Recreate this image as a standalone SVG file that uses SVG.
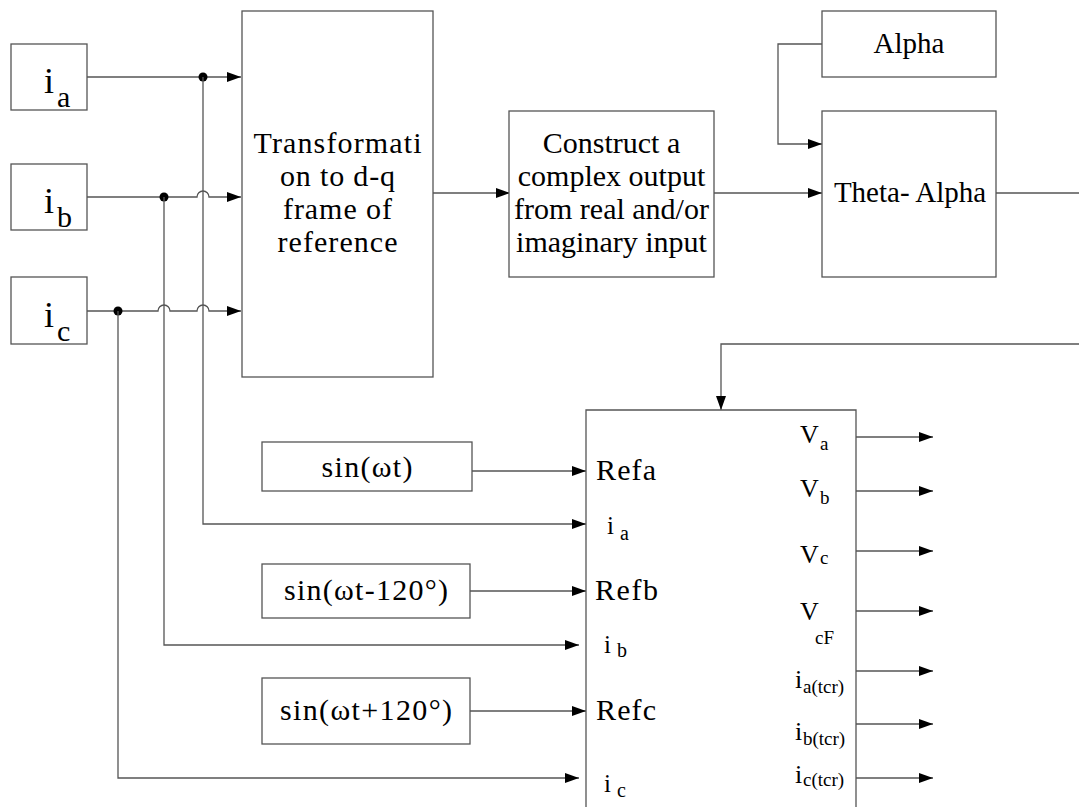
<svg xmlns="http://www.w3.org/2000/svg" width="1079" height="807" viewBox="0 0 1079 807">
<defs>
<style>
.box{fill:#fff;stroke:#555;stroke-width:1.3}
.ln{fill:none;stroke:#555;stroke-width:1.3}
.t{font-family:"Liberation Serif","Times New Roman",serif;fill:#000}
.c{text-anchor:middle}
</style>
<marker id="ah" viewBox="0 0 14 10" refX="14" refY="5" markerWidth="14" markerHeight="10" markerUnits="userSpaceOnUse" orient="auto">
<path d="M0,0 L14,5 L0,10 Z" fill="#000"/>
</marker>
</defs>
<rect width="1079" height="807" fill="#fff"/>

<g id="connectors">
<path class="ln" d="M87,77 H241" marker-end="url(#ah)"/>
<path class="ln" d="M87,197 H197 A6,6 0 0 1 209,197 H241" marker-end="url(#ah)"/>
<path class="ln" d="M87,311 H158 A6,6 0 0 1 170,311 H197 A6,6 0 0 1 209,311 H241" marker-end="url(#ah)"/>
<circle cx="203" cy="77" r="4.5" fill="#000"/>
<circle cx="164" cy="197" r="4.5" fill="#000"/>
<circle cx="118" cy="311" r="4.5" fill="#000"/>
<path class="ln" d="M203,77 V524 H586" marker-end="url(#ah)"/>
<path class="ln" d="M164,197 V645 H579" marker-end="url(#ah)"/>
<path class="ln" d="M118,311 V778 H579" marker-end="url(#ah)"/>
<path class="ln" d="M433,193 H510" marker-end="url(#ah)"/>
<path class="ln" d="M714,193 H822" marker-end="url(#ah)"/>
<path class="ln" d="M822,44 H778 V144 H822" marker-end="url(#ah)"/>
<path class="ln" d="M996,193 H1079"/>
<path class="ln" d="M1079,344 H721 V410" marker-end="url(#ah)"/>
<path class="ln" d="M472,471 H586" marker-end="url(#ah)"/>
<path class="ln" d="M470,591 H586" marker-end="url(#ah)"/>
<path class="ln" d="M470,711 H586" marker-end="url(#ah)"/>
<path class="ln" d="M856,437 H933" marker-end="url(#ah)"/>
<path class="ln" d="M856,491 H933" marker-end="url(#ah)"/>
<path class="ln" d="M856,551 H933" marker-end="url(#ah)"/>
<path class="ln" d="M856,611 H933" marker-end="url(#ah)"/>
<path class="ln" d="M856,671 H933" marker-end="url(#ah)"/>
<path class="ln" d="M856,724 H933" marker-end="url(#ah)"/>
<path class="ln" d="M856,778 H933" marker-end="url(#ah)"/>
</g>

<g id="node-ia">
<rect class="box" x="11" y="44" width="76" height="66"/>
<text class="t" x="44" y="93" font-size="36">i</text>
<text class="t" x="57" y="107" font-size="30">a</text>
</g>
<g id="node-ib">
<rect class="box" x="11" y="164" width="76" height="66"/>
<text class="t" x="44" y="213" font-size="36">i</text>
<text class="t" x="57" y="227" font-size="30">b</text>
</g>
<g id="node-ic">
<rect class="box" x="11" y="277" width="76" height="67"/>
<text class="t" x="44" y="327" font-size="36">i</text>
<text class="t" x="57" y="341" font-size="30">c</text>
</g>

<g id="node-transform">
<rect class="box" x="242" y="11" width="191" height="366"/>
<text class="t c" x="337.5" y="153" font-size="30" textLength="168">Transformati</text>
<text class="t c" x="337.5" y="186" font-size="30" textLength="115">on to d-q</text>
<text class="t c" x="337.5" y="219" font-size="30" textLength="109">frame of</text>
<text class="t c" x="337.5" y="252" font-size="30" textLength="120">reference</text>
</g>

<g id="node-construct">
<rect class="box" x="509" y="111" width="205" height="166"/>
<text class="t c" x="611.5" y="153" font-size="30">Construct a</text>
<text class="t c" x="611.5" y="186" font-size="30">complex output</text>
<text class="t c" x="611.5" y="219" font-size="30">from real and/or</text>
<text class="t c" x="611.5" y="252" font-size="30">imaginary input</text>
</g>

<g id="node-alpha">
<rect class="box" x="822" y="11" width="174" height="66"/>
<text class="t c" x="909" y="53" font-size="29">Alpha</text>
</g>

<g id="node-theta">
<rect class="box" x="822" y="111" width="174" height="166"/>
<text class="t c" x="910" y="202" font-size="29">Theta- Alpha</text>
</g>

<g id="node-sin1">
<rect class="box" x="262" y="442" width="210" height="49"/>
<text class="t c" x="367" y="477" font-size="30" textLength="91">sin(ωt)</text>
</g>
<g id="node-sin2">
<rect class="box" x="262" y="564" width="208" height="54"/>
<text class="t c" x="366" y="600" font-size="30" textLength="164">sin(ωt-120°)</text>
</g>
<g id="node-sin3">
<rect class="box" x="262" y="678" width="208" height="66"/>
<text class="t c" x="366" y="720" font-size="30" textLength="172">sin(ωt+120°)</text>
</g>

<g id="node-main">
<path class="box" d="M586,812 V410 H856 V812"/>
<text class="t" x="596" y="480" font-size="30" textLength="60">Refa</text>
<text class="t" x="607" y="534" font-size="25">i</text>
<text class="t" x="620" y="540" font-size="20">a</text>
<text class="t" x="595" y="600" font-size="30" textLength="63">Refb</text>
<text class="t" x="604" y="653" font-size="25">i</text>
<text class="t" x="617" y="657" font-size="20">b</text>
<text class="t" x="596" y="720" font-size="30" textLength="60">Refc</text>
<text class="t" x="604" y="792" font-size="25">i</text>
<text class="t" x="617" y="797" font-size="20">c</text>

<text class="t" x="800" y="443" font-size="26">V</text>
<text class="t" x="820" y="450" font-size="19">a</text>
<text class="t" x="800" y="497" font-size="26">V</text>
<text class="t" x="820" y="504" font-size="19">b</text>
<text class="t" x="800" y="563" font-size="26">V</text>
<text class="t" x="820" y="564" font-size="19">c</text>
<text class="t" x="800" y="620" font-size="26">V</text>
<text class="t" x="815" y="644" font-size="19">cF</text>
<text class="t" x="795" y="688" font-size="26">i</text>
<text class="t" x="803" y="693" font-size="19">a(tcr)</text>
<text class="t" x="795" y="740" font-size="26">i</text>
<text class="t" x="803" y="745" font-size="19">b(tcr)</text>
<text class="t" x="795" y="783" font-size="26">i</text>
<text class="t" x="803" y="786" font-size="19">c(tcr)</text>
</g>
</svg>
